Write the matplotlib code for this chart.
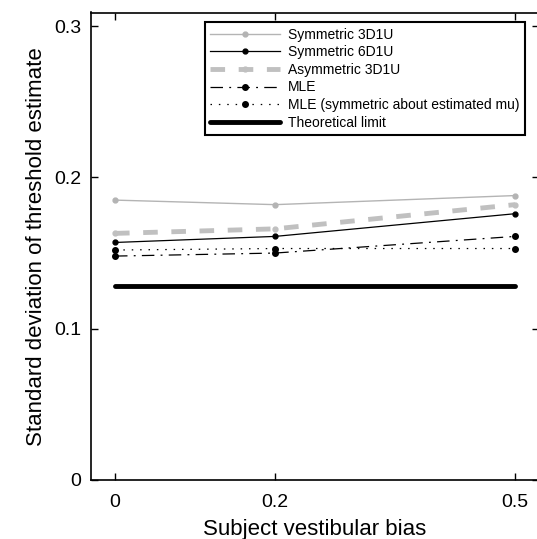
import matplotlib
matplotlib.use('Agg')
import matplotlib.pyplot as plt

plt.rcParams['font.family'] = ['Liberation Sans', 'DejaVu Sans']

# ── Data ───────────────────────────────────────────────────────────────────────
BIAS = [0, 0.2, 0.5]

sym_3d1u  = [0.185, 0.182, 0.188]
sym_6d1u  = [0.157, 0.161, 0.176]
asym_3d1u = [0.163, 0.166, 0.182]
mle       = [0.148, 0.150, 0.161]
mle_sym   = [0.152, 0.153, 0.153]
theory    = [0.128, 0.128, 0.128]

XTICKS = [0, 0.2, 0.5]
XTICKLABELS = ['0', '0.2', '0.5']
YTICKS = [0, 0.1, 0.2, 0.3]
YTICKLABELS = ['0', '0.1', '0.2', '0.3']

# ── Plot ───────────────────────────────────────────────────────────────────────
fig = plt.figure(figsize=(5.37, 5.39), dpi=100)
ax = fig.add_axes([91 / 537, 1 - 480 / 539, (539 - 91) / 537, (480 - 12.5) / 539])

ax.plot(BIAS, sym_3d1u, color='#b4b4b4', linewidth=1.0, marker='o', markersize=3.5,
        label='Symmetric 3D1U')
ax.plot(BIAS, sym_6d1u, color='black', linewidth=0.9, marker='o', markersize=3.5,
        label='Symmetric 6D1U')
ax.plot(BIAS, asym_3d1u, color='#c0c0c0', linewidth=3.5, marker='o', markersize=3.5,
        dashes=(3.0, 2.8), label='Asymmetric 3D1U')
ax.plot(BIAS, mle, color='black', linewidth=0.9, marker='o', markersize=4,
        dashes=(10, 5, 1.5, 5), label='MLE')
ax.plot(BIAS, mle_sym, color='black', linewidth=0.9, marker='o', markersize=4,
        dashes=(1.2, 5.5), label='MLE (symmetric about estimated mu)')
ax.plot(BIAS, theory, color='black', linewidth=3.5, solid_capstyle='round',
        label='Theoretical limit')

ax.set_xlim(-0.03, 0.53)
ax.set_ylim(0, 0.309)
ax.set_xticks(XTICKS)
ax.set_xticklabels(XTICKLABELS)
ax.set_yticks(YTICKS)
ax.set_yticklabels(YTICKLABELS)
ax.tick_params(direction='in', top=True, right=True, length=5, width=1,
               labelsize=14)
ax.tick_params(axis='x', pad=10)
ax.tick_params(axis='y', pad=7)
for sp in ax.spines.values():
    sp.set_linewidth(1.2)

ax.set_xlabel('Subject vestibular bias', fontsize=16, labelpad=6)
ax.set_ylabel('Standard deviation of threshold estimate', fontsize=16, labelpad=5)

leg = ax.legend(loc='upper right', bbox_to_anchor=(525 / 537, 1 - 22 / 539),
                bbox_transform=fig.transFigure, fontsize=10, frameon=True,
                fancybox=False, framealpha=1, edgecolor='black', numpoints=1,
                handlelength=5.0, labelspacing=0.26, borderpad=0.4,
                handletextpad=0.6, borderaxespad=0)
leg.get_frame().set_linewidth(1.5)

fig.savefig('out.png', dpi=100)
